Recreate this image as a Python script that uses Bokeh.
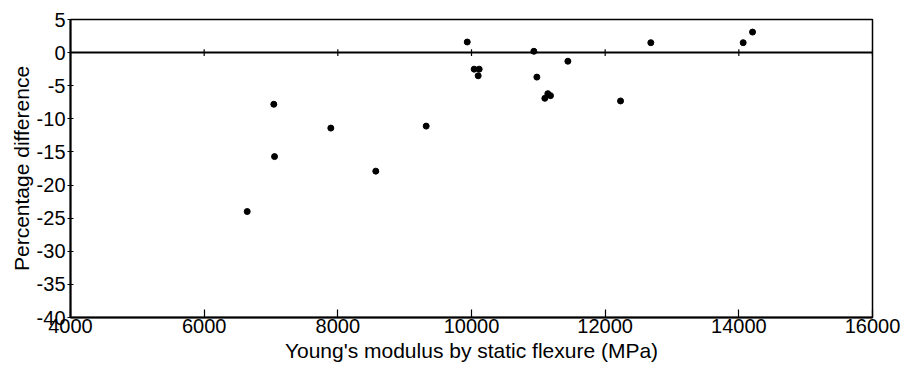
from bokeh.plotting import figure
from bokeh.models import FixedTicker, Range1d, Span, PrintfTickFormatter
from bokeh.embed import file_html
from bokeh.resources import INLINE

# Young's modulus by static flexure (MPa)
modulus = [6644, 7042, 7053, 7895, 8568, 9322, 9936, 10040, 10115, 10100,
           10933, 10978, 11097, 11142, 11182, 11442, 12230, 12683, 14065, 14205]
# Percentage difference
pct_diff = [-24.0, -7.8, -15.7, -11.4, -17.9, -11.1, 1.6, -2.5, -2.5, -3.5,
            0.2, -3.7, -6.9, -6.2, -6.5, -1.3, -7.3, 1.5, 1.5, 3.1]

x_ticks = [4000, 6000, 8000, 10000, 12000, 14000, 16000]
y_ticks = [5, 0, -5, -10, -15, -20, -25, -30, -35, -40]

FONT = "Liberation Sans"

p = figure(width=905, height=376, output_backend="svg", toolbar_location=None,
           x_range=Range1d(4000, 16000), y_range=Range1d(-40, 5),
           min_border_left=70, min_border_right=33, min_border_top=19,
           min_border_bottom=59)
p.xgrid.visible = False
p.ygrid.visible = False
p.outline_line_color = "black"
p.outline_line_width = 1.5
p.background_fill_color = "white"
p.border_fill_color = "white"

p.xaxis.ticker = FixedTicker(ticks=x_ticks)
p.yaxis.ticker = FixedTicker(ticks=y_ticks)
p.xaxis.formatter = PrintfTickFormatter(format="%d")
p.yaxis.formatter = PrintfTickFormatter(format="%d")
p.xaxis.minor_tick_line_color = None
p.yaxis.minor_tick_line_color = None
for ax in (p.xaxis[0], p.yaxis[0]):
    ax.axis_line_color = "black"
    ax.axis_line_width = 2
    ax.major_tick_line_color = "black"
    ax.major_tick_line_width = 1.2
    ax.major_label_text_font = FONT
    ax.major_label_text_font_size = "20px"
    ax.major_label_text_color = "black"
    ax.axis_label_text_font = FONT
    ax.axis_label_text_font_size = "21px"
    ax.axis_label_text_font_style = "normal"
    ax.axis_label_text_color = "black"

p.xaxis.major_tick_in = 8
p.xaxis.major_tick_out = 0
p.xaxis.major_label_standoff = 1
p.xaxis.axis_label = "Young's modulus by static flexure (MPa)"
p.xaxis.axis_label_standoff = 3

p.yaxis.major_tick_in = 3
p.yaxis.major_tick_out = 3
p.yaxis.major_label_standoff = 2
p.yaxis.axis_label = "Percentage difference"
p.yaxis.axis_label_standoff = 1

zero = Span(location=0, dimension="width", line_color="black", line_width=2)
p.add_layout(zero)
p.segment(x0=x_ticks, x1=x_ticks, y0=[-0.5] * len(x_ticks), y1=[0.5] * len(x_ticks),
          line_color="black", line_width=1.2)

p.scatter(modulus, pct_diff, size=6, color="black")

open("out.html", "w").write(file_html(p, INLINE))
